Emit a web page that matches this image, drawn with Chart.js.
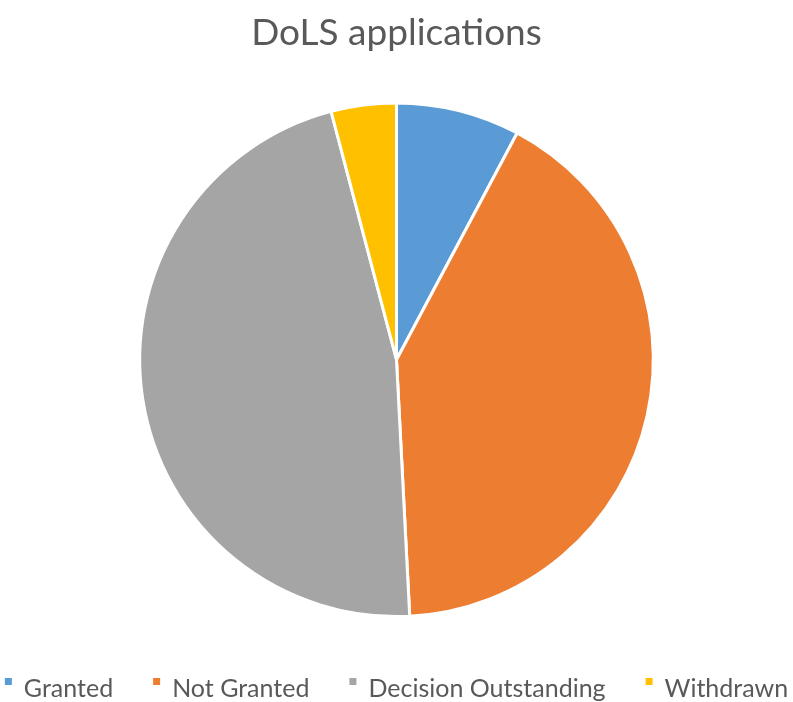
<!DOCTYPE html>
<html>
<head>
<meta charset="utf-8">
<script src="https://cdn.jsdelivr.net/npm/chart.js@4.4.0/dist/chart.umd.min.js"></script>
<style>
  html, body { margin: 0; padding: 0; background: #fff; }
  #wrap { width: 793px; height: 702px; }
</style>
</head>
<body>
<div id="wrap"><canvas id="grafico"></canvas></div>
<script>
const categorias = ["Granted", "Not Granted", "Decision Outstanding", "Withdrawn"];
const valores = [19, 101, 114, 10];
const cores = ["#5B9BD5", "#ED7D31", "#A5A5A5", "#FFC000"];
const titulo = "DoLS applications";

// legenda desenhada à mão, para ficar igual ao original (marcador pequeno no alto)
const legendaPlugin = {
  id: "legendaPlugin",
  afterDraw(chart) {
    const ctx = chart.ctx;
    const items = chart.legend.legendItems || [];
    const tamanho = 7, espaco = 12, entre = 40;
    ctx.save();
    ctx.font = "25px Lato";
    ctx.textBaseline = "alphabetic";
    const larguras = items.map(it => tamanho + espaco + ctx.measureText(it.text).width);
    const total = larguras.reduce((a, b) => a + b, 0) + entre * (items.length - 1);
    let x = (chart.width - total) / 2;
    const base = 697;
    items.forEach((it, i) => {
      ctx.fillStyle = it.fillStyle;
      ctx.fillRect(x, base - 19, tamanho, tamanho);
      ctx.fillStyle = "#595959";
      ctx.fillText(it.text, x + tamanho + espaco, base);
      x += larguras[i] + entre;
    });
    ctx.restore();
  }
};

new Chart(document.getElementById("grafico"), {
  type: "pie",
  data: {
    labels: categorias,
    datasets: [{
      data: valores,
      backgroundColor: cores,
      borderColor: "#ffffff",
      borderWidth: 3
    }]
  },
  options: {
    responsive: true,
    maintainAspectRatio: false,
    animation: false,
    layout: { padding: { top: 0, bottom: 84, left: 0, right: 0 } },
    plugins: {
      title: {
        display: true,
        text: titulo,
        color: "#595959",
        font: { family: "Lato", size: 37, weight: "normal" },
        padding: { top: 11, bottom: 46 }
      },
      legend: { display: false },
      tooltip: { enabled: false }
    }
  },
  plugins: [legendaPlugin]
});
</script>
</body>
</html>
